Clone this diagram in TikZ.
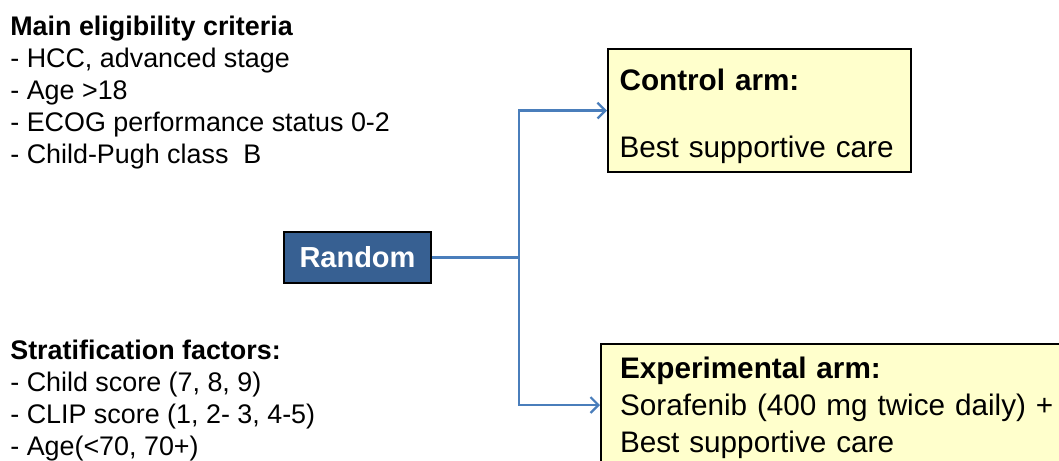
\documentclass[tikz,border=0pt]{standalone}
\usepackage{fontspec}
\setmainfont{Liberation Sans}
\usepackage{tikz}
\usetikzlibrary{calc,arrows.meta}
\definecolor{randbleu}{RGB}{55,96,146}
\definecolor{lienbleu}{RGB}{74,126,187}
\definecolor{jaunepale}{RGB}{255,255,204}
\tikzstyle{texte} = [anchor=north west, inner sep=0pt, align=left, font=\fontsize{15.3}{18.2}\selectfont]
\tikzstyle{bras} = [rectangle, draw=black, line width=1.2pt, fill=jaunepale, align=left, font=\fontsize{16.9}{19}\selectfont]
\tikzstyle{tirage} = [rectangle, draw=black, line width=1pt, fill=randbleu, text=white, minimum width=2.94cm, minimum height=1.02cm, font=\fontsize{16.5}{19}\selectfont\bfseries]
\tikzstyle{lien} = [draw=lienbleu, line width=1.3pt, -{Straight Barb[length=4.5pt,width=9pt]}]

\begin{document}
\begin{tikzpicture}

        \path[use as bounding box, clip] (0,0) rectangle (21.18,-9.2);

        \node (crit) [texte] at (0.2,-0.32) {\textbf{Main eligibility criteria}\\
            - HCC, advanced stage\\
            - Age >18\\
            - ECOG performance status 0-2\\
            - Child-Pugh class~~B};

        \node (strat) [texte] at (0.2,-6.8) {\textbf{Stratification factors:}\\
            - Child score (7, 8, 9)\\
            - CLIP score (1, 2- 3, 4-5)\\
            - Age(<70, 70+)};

        \node (rand) [tirage] at (7.15,-5.15) {Random};

        \node (ctrl) [bras, anchor=north west, minimum height=2.46cm, text width=5.6cm, inner xsep=0.23cm, text height=0.67cm] at (12.14,-0.96) {\textbf{Control arm:}\\
            ~\\
            Best supportive care};

        \node (exp) [bras, anchor=north west, text width=9.6cm, inner xsep=0.38cm, inner ysep=0.26cm] at (12.0,-6.86) {\textbf{Experimental arm:}\\[2pt]
            Sorafenib (400 mg twice daily) +\\[2pt]
            Best supportive care};

        \coordinate (split) at (10.38,-5.15);

        \draw[lien] (rand.east) -- (split) |- (ctrl.west);
        \draw[lien] (split) |- ([yshift=-1.24cm]exp.north west);

    \end{tikzpicture}
\end{document}
